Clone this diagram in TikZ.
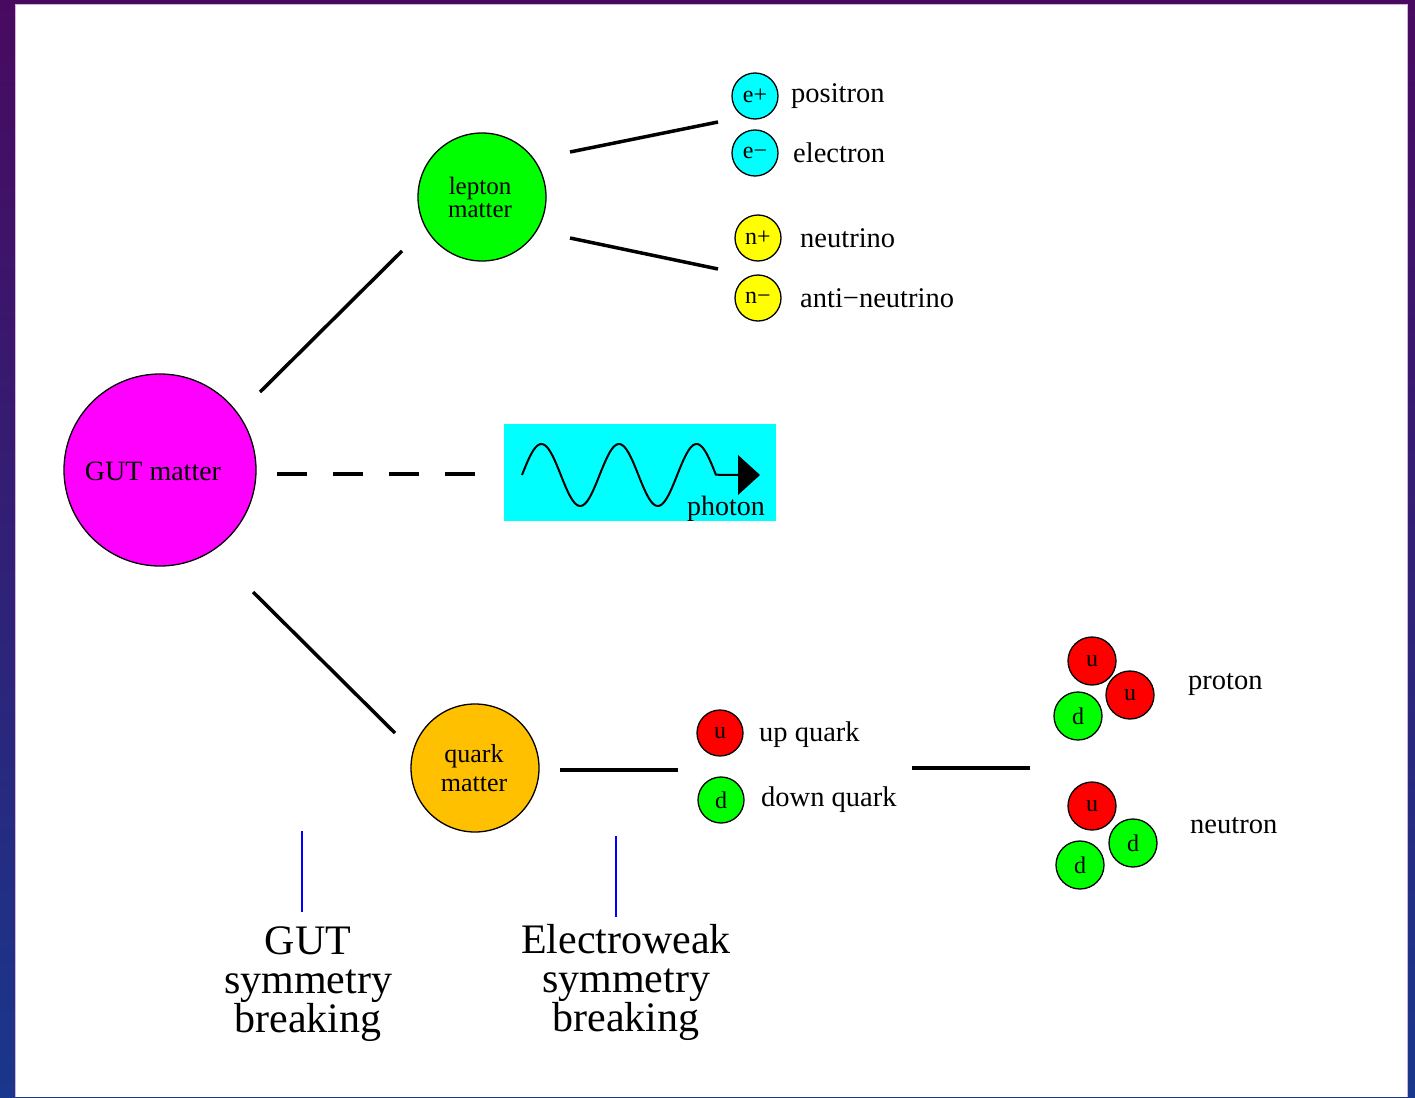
\documentclass[tikz,border=0pt]{standalone}
\usepackage{fontspec}
\setmainfont{Liberation Serif}
\begin{document}
\begin{tikzpicture}[x=1pt,y=-1pt,
  ball/.style={circle,draw=black,line width=1.3pt,inner sep=0pt,align=center},
  big/.style={ball,minimum size=192pt,fill=pmag},
  mid/.style={ball,minimum size=128pt},
  small/.style={ball,minimum size=46pt,font=\fontsize{24}{24}\selectfont},
  lbl/.style={anchor=west,inner sep=0pt,yshift=-2pt,font=\fontsize{28.5}{28.5}\selectfont},
  intext/.style={align=center,inner sep=0pt,font=\fontsize{25}{23}\selectfont},
  link/.style={line width=3.5pt},
  tick/.style={pblue,line width=1.5pt},
  stage/.style={align=center,inner sep=0pt,font=\fontsize{42}{39}\selectfont}]
\definecolor{bgtop}{RGB}{72,10,96}
\definecolor{bgbot}{RGB}{25,55,140}
\definecolor{gold}{RGB}{255,192,0}
\definecolor{lime}{RGB}{0,255,0}
\definecolor{pmag}{RGB}{255,0,255}
\definecolor{pcyan}{RGB}{0,255,255}
\definecolor{pyel}{RGB}{255,255,0}
\definecolor{pred}{RGB}{255,0,0}
\definecolor{pblue}{RGB}{0,0,255}
\useasboundingbox (0,0) rectangle (1415,1097);
\shade[top color=bgtop,bottom color=bgbot] (0,0) rectangle (1415,1097);
\fill[white] (15,5) rectangle (1407,1097);
\draw[white!70!violet,line width=1pt] (15,1097) -- (15,5) -- (1407,5) -- (1407,1097);

% main circles
\node[big] (gut) at (160,470) {};
\node[inner sep=0pt,font=\fontsize{28}{28}\selectfont] (guttxt) at (153,471) {GUT matter};
\node[mid,fill=lime] (lep) at (482,197) {};
\node[intext] (leptxt) at (480,197) {lepton\\matter};
\node[mid,fill=gold] (qrk) at (475,768) {};
\node[intext,font=\fontsize{26}{29}\selectfont] (qrktxt) at (474,768) {quark\\matter};

% photon box
\node[fill=pcyan,minimum width=272pt,minimum height=97pt,inner sep=0pt] (pbox) at (640,472.5) {};
\draw[line width=2pt] plot[domain=0:2.5,samples=120] ({522+\x*77.6},{475-31*sin(\x*360)}) -- (740,475);
\fill (738,455) -- (760,475) -- (738,495) -- cycle;
\node[anchor=base east,inner sep=0pt,font=\fontsize{28}{28}\selectfont] (ptxt) at (765,515) {photon};

% connectors
\coordinate (g1) at (260,392); \coordinate (g2) at (402,251);
\coordinate (g3) at (253,592); \coordinate (g4) at (395,733);
\coordinate (g5) at (277,474); \coordinate (g6) at (485,474);
\coordinate (l1) at (570,152); \coordinate (l2) at (718,122);
\coordinate (l3) at (570,238); \coordinate (l4) at (718,269);
\coordinate (q1) at (560,770); \coordinate (q2) at (678,770);
\coordinate (q3) at (912,768); \coordinate (q4) at (1030,768);
\draw[link] (g1) -- (g2);
\draw[link] (g3) -- (g4);
\draw[link,dash pattern=on 30pt off 26pt] (g5) -- (g6);
\draw[link] (l1) -- (l2);
\draw[link] (l3) -- (l4);
\draw[link] (q1) -- (q2);
\draw[link] (q3) -- (q4);

% leptons
\node[small,fill=pcyan] (ep) at (755,96) {e+};
\node[small,fill=pcyan] (em) at (755,153) {e−};
\node[small,fill=pyel] (np) at (758,238) {n+};
\node[small,fill=pyel] (nm) at (758,298) {n−};
\node[lbl] (tpos) at (791,94) {positron};
\node[lbl] (tele) at (793,151) {electron};
\node[lbl] (tneu) at (800,236) {neutrino};
\node[lbl] (tanu) at (800,296) {anti−neutrino};

% quarks
\node[small,fill=pred] (uq) at (720,733) {u};
\node[small,fill=lime] (dq) at (721,800) {d};
\node[lbl] (tuq) at (759,733) {up quark};
\node[lbl] (tdq) at (761,798) {down quark};

% proton
\node[small,minimum size=48pt,fill=pred] (pu1) at (1092,661) {u};
\node[small,minimum size=48pt,fill=pred] (pu2) at (1130,695) {u};
\node[small,minimum size=48pt,fill=lime] (pd1) at (1078,716) {d};
\node[lbl] (tpro) at (1188,683) {proton};

% neutron
\node[small,minimum size=48pt,fill=pred] (nu1) at (1092,806) {u};
\node[small,minimum size=48pt,fill=lime] (nd1) at (1133,843) {d};
\node[small,minimum size=48pt,fill=lime] (nd2) at (1080,865) {d};
\node[lbl] (tneut) at (1190,824) {neutron};

% symmetry breaking
\coordinate (b1) at (302,831); \coordinate (b2) at (302,912);
\coordinate (b3) at (616,836); \coordinate (b4) at (616,917);
\draw[tick] (b1) -- (b2);
\draw[tick] (b3) -- (b4);
\node[stage,anchor=north] (sgut) at (308,926) {GUT\\symmetry\\breaking};
\node[stage,anchor=north] (sew) at (626,924) {Electroweak\\symmetry\\breaking};
\end{tikzpicture}
\end{document}
